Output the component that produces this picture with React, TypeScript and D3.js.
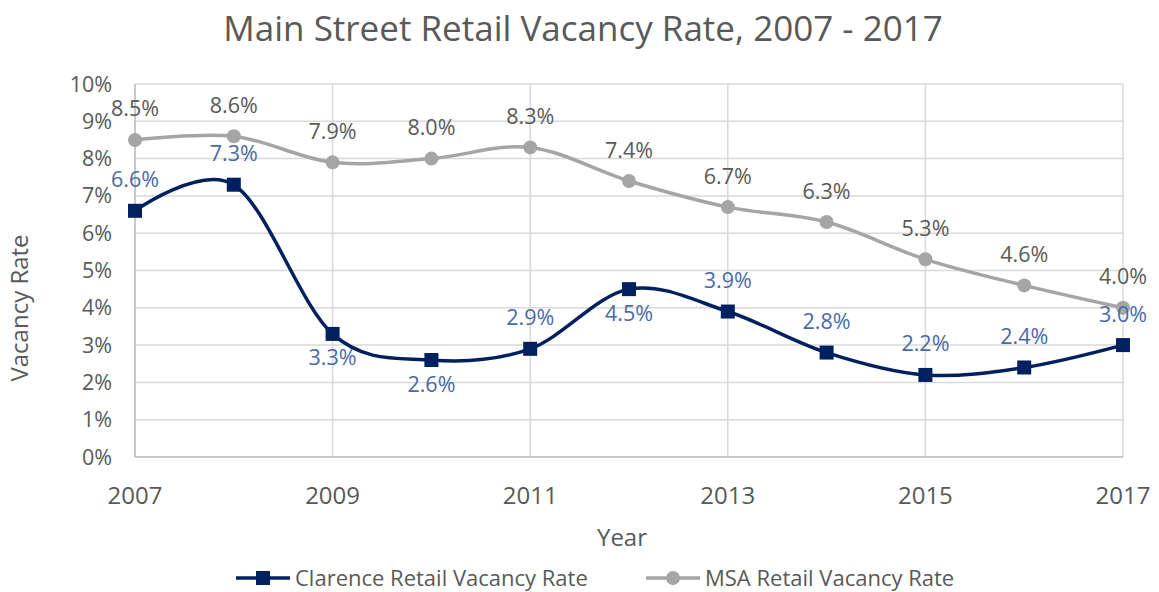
import React from "react";
import * as d3 from "d3";

const years = [2007, 2008, 2009, 2010, 2011, 2012, 2013, 2014, 2015, 2016, 2017];
const clarence = [6.6, 7.3, 3.3, 2.6, 2.9, 4.5, 3.9, 2.8, 2.2, 2.4, 3.0];
const msa = [8.5, 8.6, 7.9, 8.0, 8.3, 7.4, 6.7, 6.3, 5.3, 4.6, 4.0];
// label placement: 1 = above, -1 = below
const clarenceLabelPos = [1, 1, -1, -1, 1, -1, 1, 1, 1, 1, 1];
const xTicks = [2007, 2009, 2011, 2013, 2015, 2017];
const yTicks = [0, 1, 2, 3, 4, 5, 6, 7, 8, 9, 10];

const W = 1159;
const H = 592;
const FONT = "'Open Sans', 'Noto Sans', sans-serif";

export default function App() {
  const x = d3.scaleLinear().domain([2007, 2017]).range([135, 1123]);
  const y = d3.scaleLinear().domain([0, 10]).range([457, 84]);
  const line = d3
    .line<number>()
    .x((_, i) => x(years[i]))
    .y((d) => y(d))
    .curve(d3.curveCardinal.tension(0));

  return (
    <svg width={W} height={H} style={{ position: "absolute", left: 0, top: 0, background: "#fff" }} fontFamily={FONT}>
      <rect x={0} y={0} width={W} height={H} fill="#fff" />
      <text x={583} y={41} textAnchor="middle" fontSize={35} fill="#595959">
        Main Street Retail Vacancy Rate, 2007 - 2017
      </text>
      {/* gridlines */}
      {yTicks.map((t) => (
        <line key={"gy" + t} x1={x(2007)} x2={x(2017)} y1={y(t)} y2={y(t)} stroke="#d9d9d9" strokeWidth={1.5} />
      ))}
      {xTicks.map((t) => (
        <line key={"gx" + t} x1={x(t)} x2={x(t)} y1={y(10)} y2={y(0)} stroke="#d9d9d9" strokeWidth={1.5} />
      ))}
      <line x1={x(2007)} x2={x(2007)} y1={y(10)} y2={y(0)} stroke="#bfbfbf" strokeWidth={1.5} />
      <line x1={x(2007)} x2={x(2017)} y1={y(0)} y2={y(0)} stroke="#bfbfbf" strokeWidth={1.5} />
      {/* y tick labels */}
      {yTicks.map((t) => (
        <text key={"ty" + t} x={112} y={y(t)} dy="0.35em" textAnchor="end" fontSize={21.5} fill="#595959">
          {t + "%"}
        </text>
      ))}
      {xTicks.map((t) => (
        <text key={"tx" + t} x={x(t)} y={504} textAnchor="middle" fontSize={24} fill="#595959">
          {t}
        </text>
      ))}
      <text x={622} y={546} textAnchor="middle" fontSize={24} fill="#595959">
        Year
      </text>
      <text transform="translate(28,308) rotate(-90)" textAnchor="middle" fontSize={24} fill="#595959">
        Vacancy Rate
      </text>
      {/* MSA series */}
      <path d={line(msa) || ""} fill="none" stroke="#a5a5a5" strokeWidth={3.5} />
      {msa.map((v, i) => (
        <circle key={"mc" + i} cx={x(years[i])} cy={y(v)} r={7} fill="#a5a5a5" />
      ))}
      {msa.map((v, i) => (
        <text key={"ml" + i} x={x(years[i])} y={y(v) - 31} dy="0.35em" textAnchor="middle" fontSize={21.5} fill="#595959">
          {v.toFixed(1) + "%"}
        </text>
      ))}
      {/* Clarence series */}
      <path d={line(clarence) || ""} fill="none" stroke="#002060" strokeWidth={3.5} />
      {clarence.map((v, i) => (
        <rect key={"cr" + i} x={x(years[i]) - 7} y={y(v) - 7} width={14} height={14} fill="#002060" />
      ))}
      {clarence.map((v, i) => (
        <text
          key={"cl" + i}
          x={x(years[i])}
          y={y(v) + (clarenceLabelPos[i] > 0 ? -31 : 24)}
          dy="0.35em"
          textAnchor="middle"
          fontSize={21.5}
          fill="#4a69a8"
        >
          {v.toFixed(1) + "%"}
        </text>
      ))}
      {/* legend */}
      <line x1={236} x2={290} y1={578} y2={578} stroke="#002060" strokeWidth={3.5} />
      <rect x={256} y={571} width={14} height={14} fill="#002060" />
      <text x={295} y={578} dy="0.35em" fontSize={22} fill="#595959">
        Clarence Retail Vacancy Rate
      </text>
      <line x1={646} x2={700} y1={578} y2={578} stroke="#a5a5a5" strokeWidth={3.5} />
      <circle cx={673} cy={578} r={7} fill="#a5a5a5" />
      <text x={705} y={578} dy="0.35em" fontSize={22} fill="#595959">
        MSA Retail Vacancy Rate
      </text>
    </svg>
  );
}
